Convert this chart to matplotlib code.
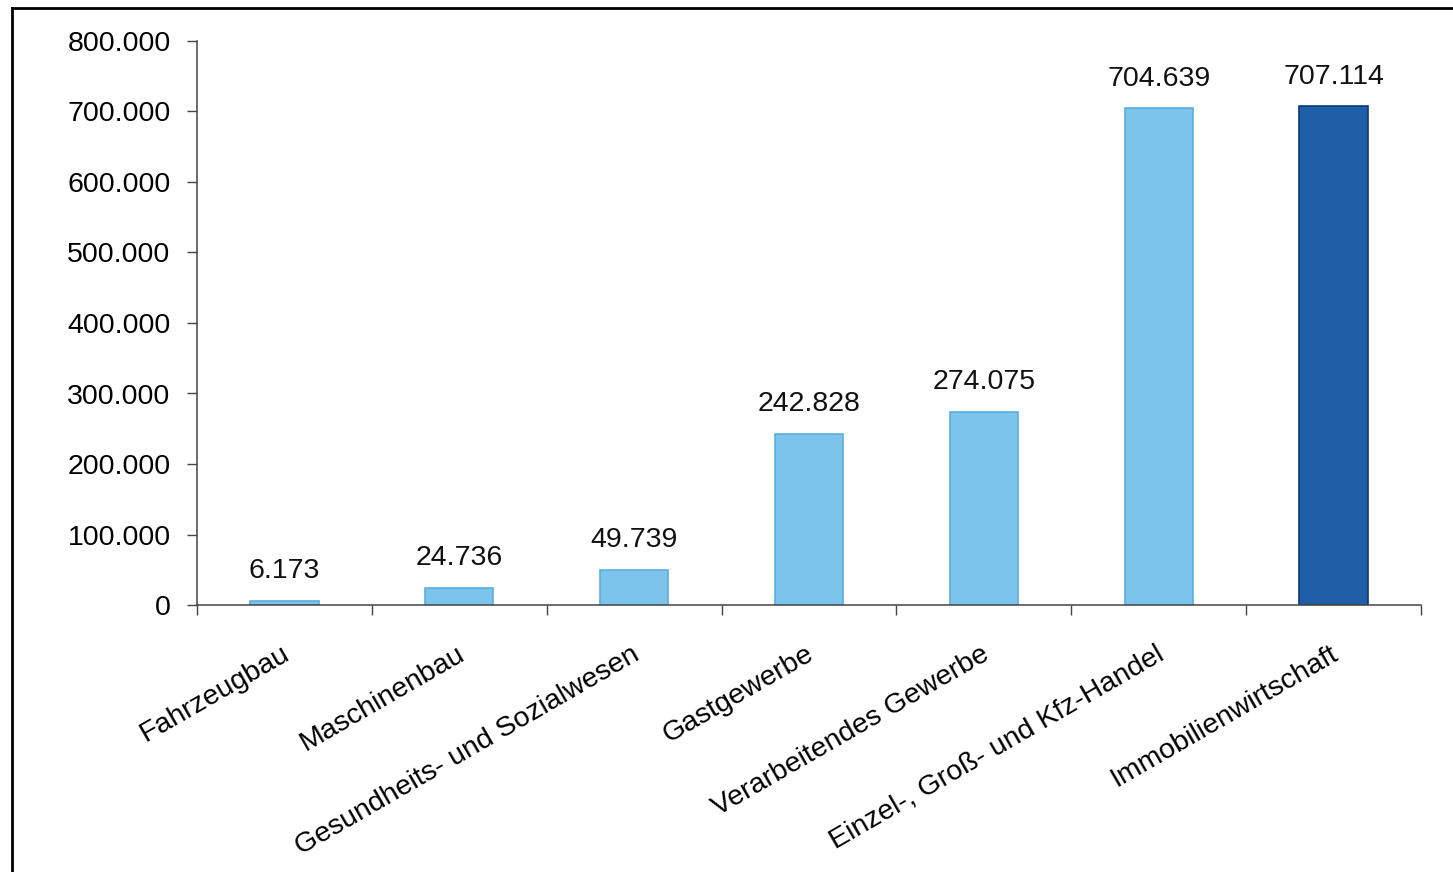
import matplotlib
matplotlib.use("Agg")
import matplotlib.pyplot as plt
from matplotlib.lines import Line2D
from matplotlib.ticker import FuncFormatter, MultipleLocator
import matplotlib.transforms as mtransforms

categories = ["Fahrzeugbau", "Maschinenbau", "Gesundheits- und Sozialwesen",
              "Gastgewerbe", "Verarbeitendes Gewerbe",
              "Einzel-, Groß- und Kfz-Handel", "Immobilienwirtschaft"]
values = [6173, 24736, 49739, 242828, 274075, 704639, 707114]
value_labels = ["6.173", "24.736", "49.739", "242.828", "274.075", "704.639", "707.114"]

plt.rcParams['font.family'] = ['Liberation Sans', 'DejaVu Sans']

W, H = 1453, 872
fig = plt.figure(figsize=(W/100, H/100), dpi=100)
ax = fig.add_axes([197/W, 1-605/H, (1421-197)/W, (605-41)/H])

light = "#7DC4EC"
light_edge = "#5BAEDD"
dark = "#1F5FA8"
dark_edge = "#0B3A78"
colors = [light]*6 + [dark]
edges = [light_edge]*6 + [dark_edge]

FS = 20.5
x = list(range(len(categories)))
bars = ax.bar(x, values, width=0.39, color=colors, edgecolor=edges, linewidth=1.2, zorder=2)

for b, lab in zip(bars, value_labels):
    ax.annotate(lab, (b.get_x() + b.get_width()/2, b.get_height()),
                xytext=(0, 12), textcoords="offset points",
                ha="center", va="bottom", fontsize=FS, color="#111111")

ax.set_xlim(-0.5, len(categories) - 0.5)
ax.set_ylim(0, 800000)
ax.yaxis.set_major_locator(MultipleLocator(100000))
ax.yaxis.set_major_formatter(FuncFormatter(lambda v, p: f"{int(v):,}".replace(",", ".")))

ax.set_xticks([i - 0.5 for i in range(len(categories) + 1)])
ax.set_xticklabels([])
ax.set_xticks(x, minor=True)
ax.set_xticklabels(categories, minor=True, rotation=30, ha="right",
                   va="center", rotation_mode="anchor", fontsize=FS)
ax.tick_params(axis="x", which="minor", length=0, pad=34)
ax.tick_params(axis="x", which="major", length=7, width=1, color="#444444", direction="out")
ax.tick_params(axis="y", length=7, width=1, color="#444444", labelsize=FS, pad=12)

for s in ["top", "right"]:
    ax.spines[s].set_visible(False)
for s in ["left", "bottom"]:
    ax.spines[s].set_color("#444444")
    ax.spines[s].set_linewidth(1.1)

# shift rotated labels so their end sits near the category centre
offset = mtransforms.ScaledTranslation(3/100, 0/100, fig.dpi_scale_trans)
for lbl in ax.get_xticklabels(minor=True):
    lbl.set_transform(lbl.get_transform() + offset)

# outer frame
fig.add_artist(Line2D([12/W, 12/W], [0, 1-8/H], color="black", linewidth=2, transform=fig.transFigure))
fig.add_artist(Line2D([12/W, 1], [1-8/H, 1-8/H], color="black", linewidth=2, transform=fig.transFigure))

fig.savefig("out.png", dpi=100)
